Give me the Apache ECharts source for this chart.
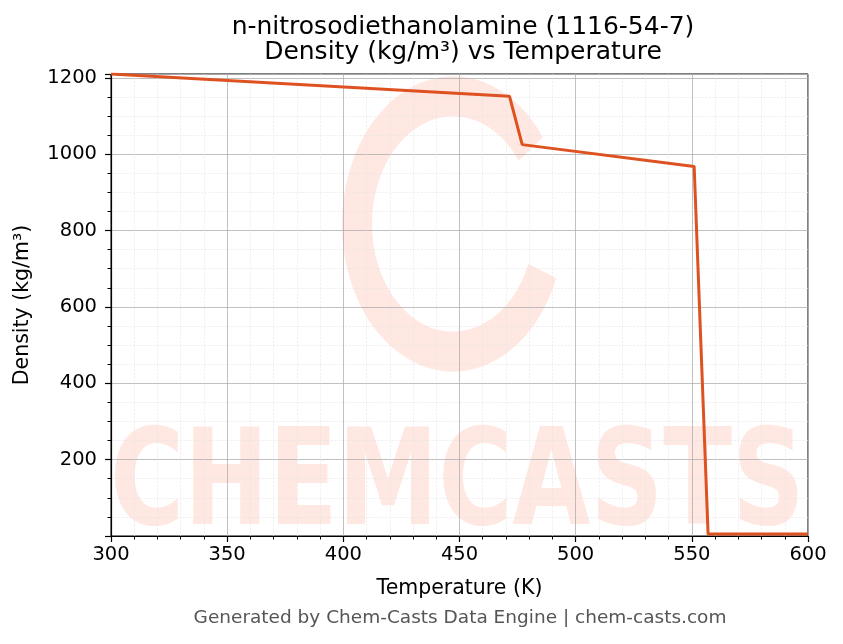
<!DOCTYPE html>
<html>
<head>
<meta charset="utf-8">
<script src="https://cdn.jsdelivr.net/npm/echarts@6/dist/echarts.min.js"></script>
<style>
  html, body { margin: 0; padding: 0; background: #fff; }
  #chart { width: 843px; height: 644px; }
</style>
</head>
<body>
<div id="chart"></div>
<script>
// temperature (K) and density (kg/m³)
var temps = [300, 471.5, 477, 551, 557, 600]
var density = [1210, 1152, 1025, 968, 5, 5]
var yTicks = [200, 400, 600, 800, 1000, 1200]

var points = []
for (var i = 0; i < temps.length; i++) {
  points.push([temps[i], density[i]])
}

var chart = echarts.init(document.getElementById('chart'))
var font = 'DejaVu Sans'

var option = {
  backgroundColor: '#ffffff',
  animation: false,
  title: {
    text: 'n-nitrosodiethanolamine (1116-54-7)\nDensity (kg/m³) vs Temperature',
    left: 458, top: 10, textAlign: 'center',
    textStyle: { fontFamily: font, fontSize: 25, fontWeight: 'normal', color: '#000', lineHeight: 25 }
  },
  graphic: [
    // watermark logo + name
    {
      type: 'arc', z: 0, silent: true,
      shape: { cx: 453, cy: 224, r: 96, startAngle: Math.PI * 0.12, endAngle: Math.PI * 1.8 },
      scaleY: 1.33, originX: 453, originY: 224,
      style: { stroke: 'rgba(255,175,160,0.3)', lineWidth: 30, fill: null }
    },
    {
      type: 'text', z: 0, silent: true,
      x: 110, y: 423, scaleY: 1.32, originX: 0, originY: 0,
      style: {
        text: 'CHEMCASTS', fontFamily: font, fontWeight: 'bold', fontSize: 101,
        fill: 'rgba(255,175,160,0.3)', verticalAlign: 'top'
      }
    },
    {
      type: 'text', x: 460, y: 618,
      style: {
        text: 'Generated by Chem-Casts Data Engine | chem-casts.com', fontFamily: font, fontSize: 18.5, fill: '#555',
        align: 'center', verticalAlign: 'middle'
      }
    }
  ],
  grid: {
    left: 111, right: 35, top: 74, bottom: 108, outerBoundsMode: 'none',
    show: true, borderColor: '#000', borderWidth: 1
  },
  xAxis: {
    type: 'value', min: 300, max: 600, interval: 50,
    name: 'Temperature (K)', nameLocation: 'middle', nameGap: 42,
    nameTextStyle: { fontFamily: font, fontSize: 20.5, color: '#000' },
    axisLine: { show: true, lineStyle: { color: '#000', width: 1.2 } },
    axisTick: { show: true, length: 6, lineStyle: { color: '#000', width: 1.2 } },
    minorTick: { show: true, splitNumber: 5, length: 3.5, lineStyle: { color: '#000' } },
    axisLabel: { fontFamily: font, fontSize: 19.5, color: '#000', margin: 9 },
    splitLine: { show: true, lineStyle: { color: '#b0b0b0', width: 0.8 } },
    minorSplitLine: { show: true, lineStyle: { color: '#e6e6e6', width: 0.6, type: 'dashed' } }
  },
  yAxis: {
    type: 'value', min: 0, max: 1210, interval: 200,
    name: 'Density (kg/m³)', nameLocation: 'middle', nameGap: 78,
    nameTextStyle: { fontFamily: font, fontSize: 20.5, color: '#000' },
    axisLine: { show: true, lineStyle: { color: '#000', width: 1.2 } },
    axisTick: { show: true, length: 6, lineStyle: { color: '#000', width: 1.2 } },
    minorTick: { show: true, splitNumber: 4, length: 3.5, lineStyle: { color: '#000' } },
    axisLabel: {
      fontFamily: font, fontSize: 19.5, color: '#000', margin: 14,
      formatter: function (v) { return yTicks.indexOf(v) >= 0 ? String(v) : '' }
    },
    splitLine: { show: true, lineStyle: { color: '#b0b0b0', width: 0.8 } },
    minorSplitLine: { show: true, lineStyle: { color: '#e6e6e6', width: 0.6, type: 'dashed' } }
  },
  series: [{
    type: 'line', data: points, showSymbol: false, z: 5,
    lineStyle: { color: '#DE5120', width: 3 }
  }]
}

chart.setOption(option)
</script>
</body>
</html>
